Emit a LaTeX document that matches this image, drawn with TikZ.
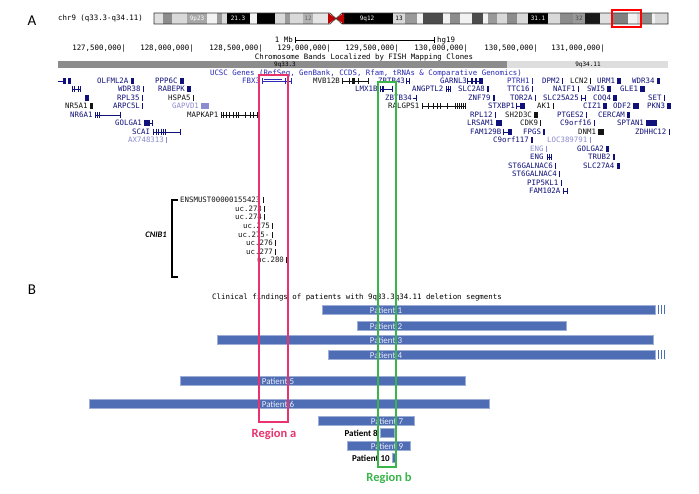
\documentclass[tikz,border=0pt]{standalone}
\usepackage{fontspec}
\setmainfont{Carlito}
\newfontfamily\ucsc{DejaVu Sans Mono}
\definecolor{gn}{HTML}{10107A}
\definecolor{gm}{HTML}{2A2AB4}
\definecolor{gl}{HTML}{8C8CD0}
\definecolor{gk}{HTML}{141414}
\definecolor{barblue}{HTML}{4F6DB4}
\definecolor{rega}{HTML}{E8336E}
\definecolor{regb}{HTML}{3AB54A}

\begin{document}
\begin{tikzpicture}[x = 1pt, y = -1pt,
    gtxt/.style = {font = \ucsc\fontsize{7.4}{8}\selectfont, inner sep = 0pt, anchor = west},
    blab/.style = {font = \ucsc\fontsize{6}{7}\selectfont, inner sep = 0pt},
    pbar/.style = {fill = barblue, draw = barblue!55!white, line width = 0.4pt},
    ptxt/.style = {font = \fontsize{9}{10}\selectfont, inner sep = 0pt, text = white!88!barblue},
    plab/.style = {font = \bfseries\fontsize{9}{10}\selectfont, inner sep = 0pt, anchor = east},
    regtxt/.style = {font = \bfseries\fontsize{12.5}{14}\selectfont, inner sep = 0pt},
    panel/.style = {font = \fontsize{15}{17}\selectfont, inner sep = 0pt}]

    \useasboundingbox[fill = white] (0, 0) rectangle (699, 494);

    \node (pa) at (32, 21) [panel] {A};
    \node (chrom) at (58, 18) [gtxt] {chr9 (q33.3-q34.11)};
    \foreach \a/\b/\g in {154/163/12, 163/172/45, 172/187/15, 187/207/35, 207/217/5, 217/222/40,
        222/227/15, 227/250/100, 250/257/5, 257/275/100, 275/285/15, 285/290/40, 290/303/15,
        303/313/30, 313/330/10, 342/393/100, 393/405/15, 405/417/40, 417/423/5, 423/443/70,
        443/450/5, 450/460/45, 460/472/5, 472/483/70, 483/488/5, 488/497/40, 497/507/15,
        507/517/45, 517/528/15, 528/548/100, 548/560/15, 560/573/45, 573/585/40, 585/600/90,
        600/613/12, 613/628/50, 628/637/5, 637/642/15, 642/652/45, 652/655/5, 655/668/15}
    \fill[black!\g] (\a, 13) rectangle (\b, 24);
    \fill[red!75!black] (328, 13) -- (336, 18.5) -- (344, 13) -- (344, 24) -- (336, 18.5) -- (328, 24) -- cycle;
    \draw[black!80, line width = 0.6] (154, 13) -- (330, 13) -- (336, 18.5) -- (342, 13) -- (668, 13)
        -- (668, 24) -- (342, 24) -- (336, 18.5) -- (330, 24) -- (154, 24) -- cycle;
    \foreach \x/\t/\c [count = \i] in {197/9p23/white, 238/21.3/white, 308/12/black!60, 367/9q12/white,
        399/13/black, 538/31.1/white, 579/32/black!70}
    \node (band\i) at (\x, 18.5) [blab, text = \c] {\t};
    \draw[red, line width = 1.6] (612, 10) rectangle (641, 27);

    \node (mb) at (293, 40) [gtxt, anchor = east] {1 Mb};
    \node (hg) at (437, 40) [gtxt] {hg19};
    \draw[|-|, line width = 0.5] ([xshift = 2pt]mb.east) -- ([xshift = -3pt]hg.west);
    \foreach \p/\v [count = \i] in {126/{127,500,000}, 194/{128,000,000}, 263/{128,500,000},
        331/{129,000,000}, 399/{129,500,000}, 468/{130,000,000}, 538/{130,500,000}, 605/{131,000,000}}
    \node (pos\i) at (\p, 49) [gtxt, anchor = east] {\v|};
    \node (fish) at (364, 57) [gtxt, anchor = center] {Chromosome Bands Localized by FISH Mapping Clones};
    \fill[black!45] (58, 61) rectangle (507, 68);
    \fill[black!13] (507, 61) rectangle (668, 68);
    \node (q333) at (285, 64.5) [blab] {9q33.3};
    \node (q3411) at (588, 64.5) [blab] {9q34.11};
    \node (ucsc) at (366, 73) [gtxt, anchor = center, text = gm]
        {UCSC Genes (RefSeq, GenBank, CCDS, Rfam, tRNAs \& Comparative Genomics)};

    \foreach \x/\y/\t/\w/\c [count = \i] in {97/81/OLFML2A/3.5/gn, 155/81/PPP6C/4.5/gn, 507/81/PTRH1/1.2/gm,
        542/81/DPM2/1.2/gn, 570/81/LCN2/1.2/gk, 597/81/URM1/3.5/gn, 632/81/WDR34/3/gn,
        118/89/WDR38/1.2/gn, 158/89/RABEPK/4/gn, 458/89/SLC2A8/2/gn, 507/89/TTC16/1.2/gn,
        553/89/NAIF1/1.2/gn, 587/89/SWI5/3.5/gn, 620/89/GLE1/5/gn,
        117/98/RPL35/1.2/gn, 168/98/HSPA5/1.2/gk, 468/98/ZNF79/2/gn, 510/98/TOR2A/1.2/gn,
        593/98/COQ4/4/gn, 648/98/SET/1.5/gn,
        65/106/NR5A1/3/gk, 113/106/ARPC5L/1.2/gn, 172/106/GAPVD1/8/gl, 537/106/AK1/1.5/gk,
        583/106/CIZ1/4/gn, 613/106/ODF2/6/gn, 647/106/PKN3/4/gn,
        470/115/RPL12/1.2/gn, 505/115/SH2D3C/4/gk, 557/115/PTGES2/1.2/gn, 598/115/CERCAM/3/gn,
        467/123/LRSAM1/6/gn, 520/123/CDK9/1.2/gk, 560/123/C9orf16/1.2/gn, 617/123/SPTAN1/11/gn,
        523/132/FPGS/1.5/gn, 578/132/DNM1/6/gk, 635/132/ZDHHC12/1.2/gn,
        128/140/AX748313/1.2/gl, 493/140/C9orf117/1.5/gn, 547/140/LOC389791/1.2/gl,
        530/149/ENG/1.2/gl, 577/149/GOLGA2/2.5/gn, 588/157/TRUB2/2.5/gn,
        508/166/ST6GALNAC6/1.5/gn, 583/166/SLC27A4/3/gn, 512/174/ST6GALNAC4/1.2/gn,
        527/183/PIP5KL1/1.5/gn,
        180/200/ENSMUST00000155423/1.4/gk, 235/209/uc.273/1/gk, 235/217/uc.274/1/gk,
        243/226/uc.275/1/gk, 246/243/uc.276/1/gk, 246/252/uc.277/1/gk, 257/260/uc.280/1.2/gk}
    {
        \node (g\i) at (\x, \y) [gtxt, text = \c] {\t};
        \fill[\c] ([xshift = 2pt, yshift = 3pt]g\i.east) rectangle ++(\w, 6);
    }
    \node (uc275b) at (238, 235) [gtxt, text = gk] {uc.275-};
    \fill[gk] ([xshift = 2pt, yshift = 3pt]uc275b.east) rectangle ++(1, 6);

    \foreach \x/\y/\t/\a/\b/\tk/\c [count = \i] in {242/81/FBX3/262/291/{262,285,291}/gm,
        313/81/MVB12B/342/368/{342,349,352,353,354,358,368}/gk, 378/81/ZBTB43/406/409/{406,409}/gn,
        440/81/GARNL3/467/482/{467,471,472,475,476,479,480,481,482}/gn,
        355/89/LMX1B/380/392/{380,382,383,392}/gn, 412/89/ANGPTL2/446/450/{446,448,450}/gn,
        385/98/ZBTB34/413/416/{416}/gn, 543/98/SLC25A25/581/585/{581,585}/gn,
        388/106/RALGPS1/422/465/{422,428,433,437,440,447,455,457,459,461,463,465}/gk,
        488/106/STXBP1/516/524/{516,520,521,522,523,524}/gn, 70/115/NR6A1/95/120/{95,97,99,120}/gn,
        187/115/MAPKAP1/221/257/{221,223,226,229,233,236,238,245,250,253,257}/gk,
        115/123/GOLGA1/144/152/{144,145,146,147,148,149,152}/gn,
        132/132/SCAI/153/180/{153,156,158,161,163,165,180}/gn,
        470/132/FAM129B/503/511/{503,508,509,510,511}/gn, 530/157/ENG/547/551/{547,549,551}/gn,
        529/191/FAM102A/563/567/{563,567}/gn}
    {
        \node (ig\i) at (\x, \y) [gtxt, text = \c] {\t};
        \draw[\c, line width = 0.6] (\a, \y) -- (\b, \y);
        \foreach \k in \tk
        \draw[\c, line width = 1] (\k, \y - 3) -- (\k, \y + 3);
    }
    \draw[gm, line width = 0.3] (264, 79.5) -- (282, 79.5);
    \draw[gn, line width = 0.6] (58, 81) -- (63, 81);
    \fill[gn] (63, 78) rectangle (66, 84);
    \fill[gn] (68, 78) rectangle (71, 84);
    \draw[gn, line width = 0.6] (72, 89) -- (80, 89);
    \foreach \k in {72, 74, 78, 80}
    \draw[gn, line width = 1] (\k, 86) -- (\k, 92);
    \fill[gn] (85, 95) rectangle (89, 101);

    \draw[line width = 1.5] (178, 200) -- (172, 200) -- (172, 277) -- (178, 277);
    \node (cnib) at (156, 235) [font = \bfseries\itshape\fontsize{8.5}{9}\selectfont, inner sep = 0pt] {CNIB1};

    \node (pb) at (32, 290) [panel] {B};
    \node (clin) at (357, 297) [gtxt, anchor = center]
        {Clinical findings of patients with 9q33.3q34.11 deletion segments};
    \foreach \a/\b/\y/\t/\c in {322/655/310/1/386, 357/566/326/2/386, 217/653/340/3/386,
        328/655/355/4/386, 180/465/381/5/278, 89/489/404/6/278, 318/414/421/7/387, 347/410/446/9/387}
    {
        \path[pbar] (\a, \y - 4.5) rectangle (\b, \y + 4.5);
        \node (p\t) at (\c, \y) [ptxt] {Patient \t};
    }
    \foreach \s in {657.5, 660.5, 663.5}
    {
        \fill[barblue] (\s, 305.5) rectangle +(1.3, 9);
        \fill[barblue] (\s, 350.5) rectangle +(1.3, 9);
    }
    \path[pbar] (380, 428.5) rectangle (394, 437.5);
    \node (p8) at (378, 433) [plab] {Patient 8};
    \path[pbar] (392, 453.5) rectangle (395, 462.5);
    \node (p10) at (390, 458) [plab] {Patient 10};

    \draw[rega, line width = 1.5] (259, 75) rectangle (288, 422);
    \draw[regb, line width = 1.5] (378, 82) rectangle (396, 467);
    \node (regiona) at (274, 434) [regtxt, text = rega] {Region a};
    \node (regionb) at (389, 478) [regtxt, text = regb] {Region b};
\end{tikzpicture}
\end{document}
